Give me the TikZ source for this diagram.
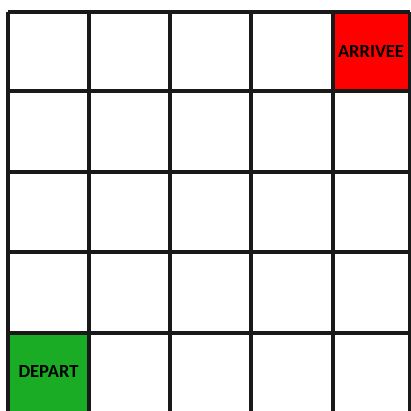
\documentclass[tikz,border=0pt]{standalone}
\usepackage{fontspec}
\setsansfont{Carlito}
\usetikzlibrary{positioning}
\definecolor{departgreen}{RGB}{26,172,36}
\definecolor{arriveered}{RGB}{255,0,0}
\tikzset{
  cell/.style    = {rectangle, inner sep=0pt, minimum width=79pt, minimum height=78pt,
                    font=\sffamily\bfseries\fontsize{18.5}{19}\selectfont, text=black},
  startcell/.style = {cell, fill=departgreen},
  goalcell/.style  = {cell, fill=arriveered},
  gridline/.style  = {line width=4pt, black!90}
}

\begin{document}
\begin{tikzpicture}[x=1pt, y=-1pt]
  \useasboundingbox (0,0) rectangle (411,410);

  % ── coloured cells ────────────────────────────────────────────────────────
  \node[goalcell]  (arrivee) at (371,51.5) {ARRIVEE};
  \node[startcell] (depart)  at (48.5,371.5) {DEPART};

  % ── grid corners ──────────────────────────────────────────────────────────
  \coordinate (TL) at (8,12);
  \coordinate (BR) at (410,413);

  % ── grid lines ────────────────────────────────────────────────────────────
  \foreach \x in {8,89,170,251,333,410}
    \draw[gridline] (\x,0 |- TL) -- (\x,0 |- BR);
  \foreach \y in {12,91,172,252,333,413}
    \draw[gridline] (TL |- 0,\y) -- (BR |- 0,\y);

\end{tikzpicture}
\end{document}
